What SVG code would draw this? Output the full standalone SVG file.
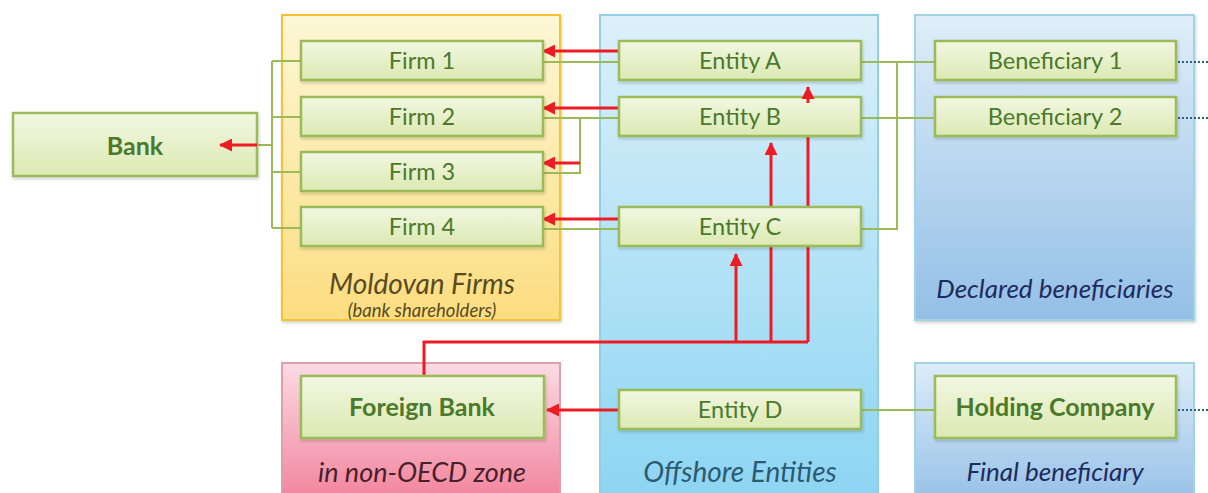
<svg xmlns="http://www.w3.org/2000/svg" width="1208" height="493" viewBox="0 0 1208 493">
<defs>
<linearGradient id="gBox" x1="0" y1="0" x2="0" y2="1"><stop offset="0" stop-color="#f2f7e2"/><stop offset="1" stop-color="#dce9b3"/></linearGradient>
<linearGradient id="gYel" x1="0" y1="0" x2="0" y2="1"><stop offset="0" stop-color="#fdf7d6"/><stop offset="1" stop-color="#fcdd80"/></linearGradient>
<linearGradient id="gOff" x1="0" y1="0" x2="0" y2="1"><stop offset="0" stop-color="#dcf0f9"/><stop offset="1" stop-color="#8dd5f3"/></linearGradient>
<linearGradient id="gDec" x1="0" y1="0" x2="0" y2="1"><stop offset="0" stop-color="#dfeef9"/><stop offset="1" stop-color="#93bfe6"/></linearGradient>
<linearGradient id="gFin" x1="0" y1="0" x2="0" y2="1"><stop offset="0" stop-color="#dcedf9"/><stop offset="1" stop-color="#9ac3e8"/></linearGradient>
<linearGradient id="gPink" x1="0" y1="0" x2="0" y2="1"><stop offset="0" stop-color="#fadbe4"/><stop offset="1" stop-color="#f2879f"/></linearGradient>
<filter id="sh" x="-10%" y="-10%" width="120%" height="130%"><feDropShadow dx="1" dy="2" stdDeviation="1.5" flood-color="#000" flood-opacity="0.18"/></filter>
<marker id="ah" markerWidth="13" markerHeight="13" refX="12" refY="6.5" orient="auto" markerUnits="userSpaceOnUse"><path d="M0,0 L13,6.5 L0,13 Z" fill="#ed1c24"/></marker>
<style>
.box{fill:url(#gBox);stroke:#9bbb59;stroke-width:2.5;filter:url(#sh)}
.t{font-family:Lato,"Open Sans",sans-serif;font-size:23.5px;fill:#4a7a2a;text-anchor:middle;dominant-baseline:central}
.b{font-weight:bold;font-size:25px}
.lbl{font-family:Lato,"Open Sans",sans-serif;font-style:italic;font-size:27px;text-anchor:middle}
.g{fill:none;stroke:#9bbb59;stroke-width:2}
.r{fill:none;stroke:#ed1c24;stroke-width:3}
.d{fill:none;stroke:#2e5f8a;stroke-width:2;stroke-dasharray:2 2}
</style>
</defs>
<g id="panels">
<rect id="p-moldovan" x="282" y="15" width="278" height="305" fill="url(#gYel)" stroke="#f8c030" stroke-width="2" filter="url(#sh)"/>
<rect id="p-offshore" x="600" y="15" width="278" height="480" fill="url(#gOff)" stroke="#93cfe2" stroke-width="2"/>
<rect id="p-declared" x="915" y="15" width="279" height="305" fill="url(#gDec)" stroke="#a3d2e3" stroke-width="2" filter="url(#sh)"/>
<rect id="p-nonoecd" x="282" y="363" width="278" height="132" fill="url(#gPink)" stroke="#dfa0ab" stroke-width="2"/>
<rect id="p-final" x="915" y="363" width="279" height="132" fill="url(#gFin)" stroke="#a3d2e3" stroke-width="2"/>
<text class="lbl" x="422" y="294" fill="#5a4a20" style="font-size:28px">Moldovan Firms</text>
<text class="lbl" x="422" y="317" fill="#5a4a20" style="font-size:18.5px">(bank shareholders)</text>
<text class="lbl" x="1055" y="298" fill="#1f2b5c" style="font-size:26px">Declared beneficiaries</text>
<text class="lbl" x="422" y="482" fill="#4a1f2c">in non-OECD zone</text>
<text class="lbl" x="740" y="482" fill="#2c5a70" style="font-size:28px">Offshore Entities</text>
<text class="lbl" x="1055" y="481" fill="#1f2b5c" style="font-size:26px">Final beneficiary</text>
</g>
<g id="connectors">
<path class="g" d="M257,145 H272 M272,61 V228 M272,61 H301 M272,117 H301 M272,172 H301 M272,228 H301"/>
<path class="g" d="M543,62 H619 M543,118 H619 M580,118 V173 H543 M543,229 H619"/>
<path class="g" d="M861,62 H935 M861,118 H935 M897,62 V229 H861 M861,410 H935"/>
<path class="d" d="M1178,62 H1208 M1178,118 H1208 M1178,410 H1208"/>
<path class="r" d="M619,51 H543" marker-end="url(#ah)"/>
<path class="r" d="M619,108 H543" marker-end="url(#ah)"/>
<path class="r" d="M580,163 H543" marker-end="url(#ah)"/>
<path class="r" d="M619,219 H543" marker-end="url(#ah)"/>
<path class="r" d="M619,410 H547" marker-end="url(#ah)"/>
<path class="r" d="M424,376 V342 H808"/>
<path class="r" d="M736,342 V254" marker-end="url(#ah)"/>
<path class="r" d="M771,342 V143" marker-end="url(#ah)"/>
<path class="r" d="M808,342 V120"/>
</g>
<g id="bank"><rect class="box" x="13" y="113" width="244" height="63"/><text class="t b" x="135" y="145">Bank</text></g>
<g id="firm1"><rect class="box" x="301" y="41" width="242" height="39"/><text class="t" x="422" y="60">Firm 1</text></g>
<g id="firm2"><rect class="box" x="301" y="97" width="242" height="39"/><text class="t" x="422" y="116">Firm 2</text></g>
<g id="firm3"><rect class="box" x="301" y="152" width="242" height="39"/><text class="t" x="422" y="171">Firm 3</text></g>
<g id="firm4"><rect class="box" x="301" y="207" width="242" height="39"/><text class="t" x="422" y="226">Firm 4</text></g>
<g id="entityA"><rect class="box" x="619" y="41" width="242" height="39"/><text class="t" x="740" y="60">Entity A</text></g>
<g id="entityB"><rect class="box" x="619" y="97" width="242" height="39"/><text class="t" x="740" y="116">Entity B</text></g>
<g id="entityC"><rect class="box" x="619" y="207" width="242" height="39"/><text class="t" x="740" y="226">Entity C</text></g>
<g id="entityD"><rect class="box" x="619" y="390" width="242" height="39"/><text class="t" x="740" y="409">Entity D</text></g>
<g id="ben1"><rect class="box" x="935" y="41" width="241" height="39"/><text class="t" x="1055" y="60">Beneficiary 1</text></g>
<g id="ben2"><rect class="box" x="935" y="97" width="241" height="39"/><text class="t" x="1055" y="116">Beneficiary 2</text></g>
<g id="foreignbank"><rect class="box" x="301" y="376" width="243" height="62"/><text class="t b" x="422" y="406">Foreign Bank</text></g>
<g id="holding"><rect class="box" x="935" y="376" width="241" height="62"/><text class="t b" x="1055" y="406">Holding Company</text></g>
<g id="overlay-arrows">
<path class="r" d="M257,145 H220" marker-end="url(#ah)"/>
<path class="r" d="M808,103 V87" marker-end="url(#ah)"/>
</g>
</svg>
